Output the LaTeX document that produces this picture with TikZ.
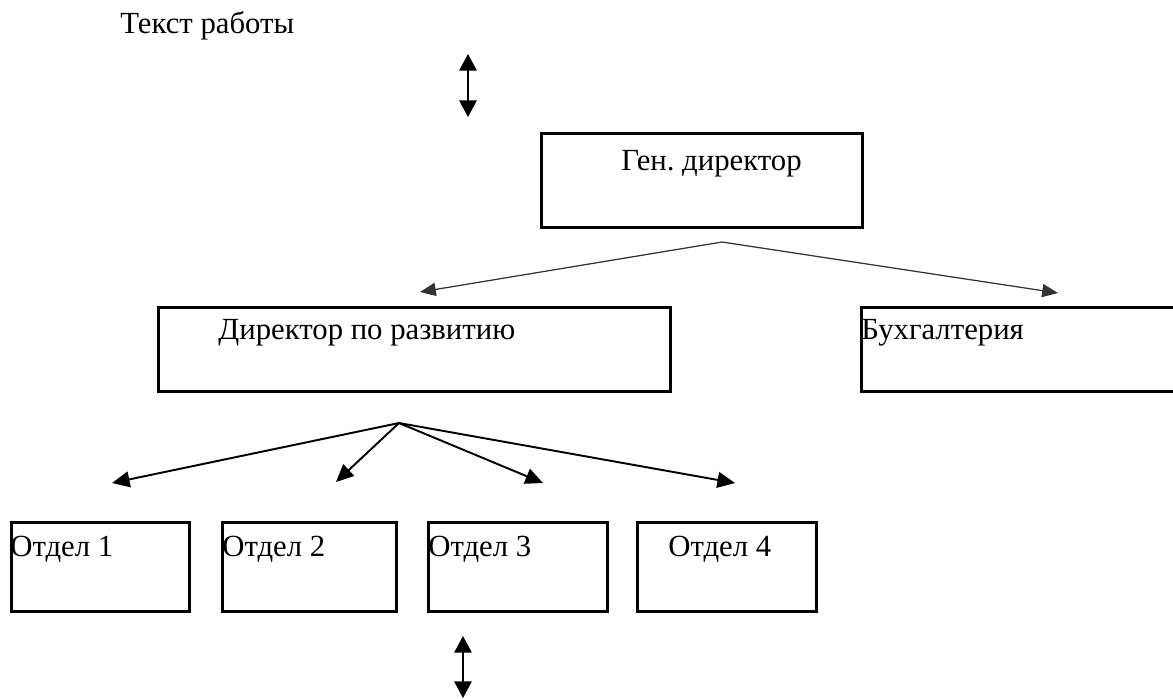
\documentclass[tikz,border=0pt]{standalone}
\usepackage{fontspec}
\setmainfont{Liberation Serif}
\usetikzlibrary{arrows.meta, positioning, calc}

\begin{document}
\frenchspacing
\begin{tikzpicture}[
    x=0.02cm, y=-0.02cm,
    box/.style={rectangle, draw=black, line width=1.7pt, anchor=north west, inner sep=0pt},
    label text/.style={anchor=base west, inner sep=0pt, font=\fontsize{17.5}{21}\selectfont},
    toplink/.style={-{Triangle[length=9pt, width=7.5pt]}, line width=0.7pt, draw=black!80, fill=black},
    sublink/.style={-{Triangle[length=10pt, width=9pt]}, line width=1.1pt},
    updown/.style={{Triangle[length=9.5pt, width=10pt]}-{Triangle[length=9.5pt, width=10pt]}, line width=0.9pt}
]
    \useasboundingbox (0,0) rectangle (1173,698);

    \node[label text] (title) at (120,33) {Текст работы};
    \coordinate (uptop) at (468,54);
    \coordinate (upbot) at (468,117);
    \draw[updown] (uptop) -- (upbot);

    % boxes
    \node[box, minimum width=6.42cm, minimum height=1.88cm] (gen) at (540,132) {};
    \node[box, minimum width=10.24cm, minimum height=1.68cm] (dir) at (157,306) {};
    \node[box, minimum width=6.5cm, minimum height=1.68cm] (buh) at (860,306) {};
    \node[box, minimum width=3.56cm, minimum height=1.78cm] (otd1) at (10,521) {};
    \node[box, minimum width=3.48cm, minimum height=1.78cm] (otd2) at (221,521) {};
    \node[box, minimum width=3.58cm, minimum height=1.78cm] (otd3) at (427,521) {};
    \node[box, minimum width=3.58cm, minimum height=1.78cm] (otd4) at (636,521) {};

    \node[label text] (gentext) at (621,170) {Ген. директор};
    \node[label text] (dirtext) at (218,339) {Директор по развитию};
    \node[label text] (buhtext) at (861,339) {Бухгалтерия};
    \node[label text] (otd1text) at (10,556) {Отдел 1};
    \node[label text] (otd2text) at (222,556) {Отдел 2};
    \node[label text] (otd3text) at (428,556) {Отдел 3};
    \node[label text] (otd4text) at (668,556) {Отдел 4};

    % arrows
    \coordinate (genfork) at (722,242);
    \coordinate (dirtip) at (420,292);
    \coordinate (buhtip) at (1058,293);
    \draw[toplink] (genfork) -- (dirtip);
    \draw[toplink] (genfork) -- (buhtip);

    \coordinate (dirfork) at (399,423);
    \coordinate (tip1) at (112,483);
    \coordinate (tip2) at (336,482);
    \coordinate (tip3) at (543,483);
    \coordinate (tip4) at (735,483);
    \foreach \t in {tip1, tip2, tip3, tip4}
        \draw[sublink] (dirfork) -- (\t);

    \coordinate (downtop) at (463,636);
    \coordinate (downbot) at (463,698);
    \draw[updown] (downtop) -- (downbot);
\end{tikzpicture}
\end{document}
